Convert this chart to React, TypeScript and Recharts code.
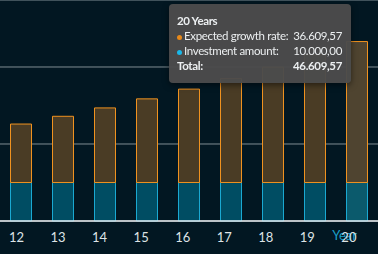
import { BarChart, Bar, XAxis, YAxis, CartesianGrid, Tooltip, Cell } from "recharts";

const years = [12, 13, 14, 15, 16, 17, 18, 19, 20];
const investment = [10000, 10000, 10000, 10000, 10000, 10000, 10000, 10000, 10000];
const growth = [15181.7, 17196.24, 19371.94, 21721.69, 24259.43, 26999.18, 29960.19, 33157.01, 36609.57];
const gridTicks = [0, 20000, 40000];

const data = years.map((y, i) => ({ year: y, investment: investment[i], growth: growth[i] }));
// the hovered year shown in the tooltip
const activeIndex = 8;

const BG = "#021722";
const FONT = "Lato, 'Open Sans', sans-serif";

const fmt = (v: number) => {
  const [int, dec] = v.toFixed(2).split(".");
  return int.replace(/\B(?=(\d{3})+(?!\d))/g, ".") + "," + dec;
};

const YearTooltip = () => {
  const row = data[activeIndex];
  const dot = (c: string) => (
    <span style={{ display: "inline-block", width: 5, height: 5, borderRadius: 3, background: c, marginRight: 2, verticalAlign: "middle" }} />
  );
  const line = { display: "flex", justifyContent: "space-between", whiteSpace: "nowrap" as const };
  return (
    <div
      style={{
        background: "rgba(75,75,75,0.97)",
        borderRadius: 4,
        padding: "9px 9px 10px 8px",
        color: "#eceff1",
        fontFamily: FONT,
        fontSize: 11.5,
        letterSpacing: "-0.35px",
        lineHeight: "15px",
        width: 182,
        boxSizing: "border-box",
        boxShadow: "0 2px 6px rgba(0,0,0,0.5)",
      }}
    >
      <div style={{ fontWeight: 700 }}>{row.year} Years</div>
      <div style={line}>
        <span>{dot("#e8891a")}Expected growth rate:</span>
        <span>{fmt(row.growth)}</span>
      </div>
      <div style={line}>
        <span>{dot("#19b8ea")}Investment amount:</span>
        <span>{fmt(row.investment)}</span>
      </div>
      <div style={{ ...line, fontWeight: 700 }}>
        <span>Total:</span>
        <span>{fmt(row.growth + row.investment)}</span>
      </div>
    </div>
  );
};

const YearTick = ({ x, y, payload, index }: any) => (
  <text
    x={x - 4.5 - index * 0.45}
    y={y + 13}
    textAnchor="middle"
    fill="#dde3e6"
    fontFamily={FONT}
    fontSize={13}
  >
    {payload.value}
  </text>
);

export default function App() {
  return (
    <div style={{ position: "fixed", top: 0, left: 0, width: 378, height: 254, background: BG }}>
      <BarChart
        width={378}
        height={254}
        data={data}
        margin={{ top: 0, right: 0, bottom: 0, left: 0 }}
        barCategoryGap="25%"
      >
        <CartesianGrid horizontal vertical={false} stroke="#7f8d93" strokeWidth={1} />
        <YAxis hide domain={[0, 57400]} ticks={gridTicks} />
        <XAxis
          dataKey="year"
          height={33}
          axisLine={{ stroke: "#e6eaec", strokeWidth: 1.5 }}
          tickLine={false}
          tick={<YearTick />}
          interval={0}
          label={{
            content: ({ viewBox }: any) => (
              <text
                x={viewBox.x + viewBox.width - 21}
                y={viewBox.y + 19}
                textAnchor="end"
                fill="#1b9dc6"
                fontFamily={FONT}
                fontSize={13}
              >
                Year
              </text>
            ),
          }}
        />
        <Tooltip
          content={<YearTooltip />}
          active
          defaultIndex={activeIndex}
          cursor={false}
          position={{ x: 169, y: 4 }}
          wrapperStyle={{ outline: "none" }}
          isAnimationActive={false}
        />
        <Bar dataKey="investment" stackId="a" stroke="#1aa9d2" strokeWidth={1} isAnimationActive={false}>
          {data.map((d, i) => (
            <Cell key={d.year} fill={i === activeIndex ? "#0b5a6c" : "#004d63"} />
          ))}
        </Bar>
        <Bar dataKey="growth" stackId="a" stroke="#f0921f" strokeWidth={1} isAnimationActive={false}>
          {data.map((d, i) => (
            <Cell key={d.year} fill={i === activeIndex ? "#4f4430" : "#4a3c25"} />
          ))}
        </Bar>
      </BarChart>
    </div>
  );
}
